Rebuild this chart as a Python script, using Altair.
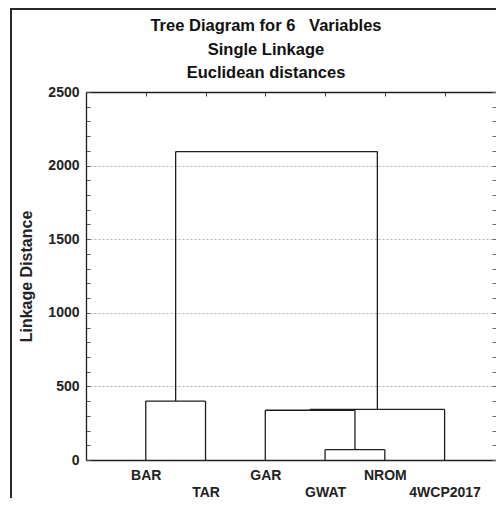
import altair as alt
import pandas as pd

# Leaves (in dendrogram order) and agglomeration steps
leaves = ["BAR", "TAR", "GAR", "GWAT", "NROM", "4WCP2017"]
merge_left = ["GWAT", "GAR", "C2", "BAR", "C4"]
merge_right = ["NROM", "C1", "4WCP2017", "TAR", "C3"]
merge_height = [70, 338, 344, 400, 2095]

y_major = [0, 500, 1000, 1500, 2000, 2500]
y_grid = [500, 1000, 1500, 2000]
y_minor = list(range(0, 2501, 100))

titles = ["Tree Diagram for 6\u00a0\u00a0\u00a0Variables", "Single Linkage", "Euclidean distances"]

# Build dendrogram segments
pos = {n: i + 1 for i, n in enumerate(leaves)}
hgt = {n: 0 for n in leaves}
rows = []
for k, (a, b, h) in enumerate(zip(merge_left, merge_right, merge_height)):
    rows.append(dict(x0=pos[a], x1=pos[a], y0=hgt[a], y1=h))
    rows.append(dict(x0=pos[b], x1=pos[b], y0=hgt[b], y1=h))
    rows.append(dict(x0=pos[a], x1=pos[b], y0=h, y1=h))
    name = f"C{k + 1}"
    pos[name] = (pos[a] + pos[b]) / 2
    hgt[name] = h
df = pd.DataFrame(rows)

FONT = "Liberation Sans"
W, H = 410, 368
xs = alt.Scale(domain=[0, 6.86], nice=False, zero=False)
ys = alt.Scale(domain=[0, 2500], nice=False, zero=False)

names_js = "[" + ",".join(f"'{n}'" for n in leaves) + "]"
label_expr = (
    f"datum.value % 2 == 0 ? ['', {names_js}[datum.value - 1]] : {names_js}[datum.value - 1]"
)

base = alt.Chart(df)

lines = base.mark_rule(color="#1e1e1e", strokeWidth=1.3).encode(
    x=alt.X(
        "x0:Q",
        scale=xs,
        axis=alt.Axis(
            orient="bottom",
            values=list(range(1, 7)),
            labelExpr=label_expr,
            tickSize=0,
            domainColor="#1e1e1e",
            domainWidth=1.3,
            labelFont=FONT,
            labelFontSize=14,
            labelFontWeight="bold",
            labelColor="#222",
            labelBaseline="top",
            labelPadding=8,
            labelLineHeight=17,
            labelOverlap=False,
            labelFlush=False,
            grid=False,
            title=None,
        ),
    ),
    x2="x1:Q",
    y=alt.Y(
        "y0:Q",
        scale=ys,
        axis=alt.Axis(
            orient="left",
            values=y_major,
            format="d",
            tickSize=0,
            domainColor="#1e1e1e",
            domainWidth=1.3,
            labelFont=FONT,
            labelFontSize=14,
            labelFontWeight="bold",
            labelColor="#222",
            labelPadding=7,
            labelFlush=False,
            grid=False,
            title="Linkage Distance",
            titleFont=FONT,
            titleFontSize=16,
            titleFontWeight="bold",
            titleColor="#222",
            titlePadding=13,
        ),
    ),
    y2="y1:Q",
)

grid_layer = base.mark_rule(opacity=0).encode(
    x=alt.X("x0:Q", scale=xs, axis=None),
    y=alt.Y(
        "y0:Q",
        scale=ys,
        axis=alt.Axis(
            orient="left",
            values=y_grid,
            grid=True,
            gridColor="#b0b0b0",
            gridDash=[2, 2],
            gridWidth=1,
            labels=False,
            ticks=False,
            domain=False,
            title=None,
        ),
    ),
)

ticks_in = base.mark_rule(opacity=0).encode(
    x=alt.X(
        "x0:Q",
        scale=xs,
        axis=alt.Axis(
            orient="top",
            offset=-4,
            values=list(range(1, 7)),
            tickSize=4,
            tickColor="#444",
            labels=False,
            domain=False,
            grid=False,
            title=None,
        ),
    ),
    y=alt.Y(
        "y0:Q",
        scale=ys,
        axis=alt.Axis(
            orient="left",
            offset=-4,
            values=y_minor,
            tickSize=4,
            tickColor="#555",
            labels=False,
            domain=False,
            grid=False,
            title=None,
        ),
    ),
)

frame_axes = base.mark_rule(opacity=0).encode(
    x=alt.X(
        "x0:Q",
        scale=xs,
        axis=alt.Axis(
            orient="top",
            values=list(range(1, 7)),
            ticks=False,
            labels=False,
            domain=True,
            domainColor="#1e1e1e",
            domainWidth=1.3,
            grid=False,
            title=None,
        ),
    ),
    y=alt.Y(
        "y0:Q",
        scale=ys,
        axis=alt.Axis(
            orient="right",
            offset=-4,
            values=y_minor,
            tickSize=4,
            tickColor="#666",
            labels=False,
            domain=False,
            grid=False,
            title=None,
        ),
    ),
)

one = alt.Data(values=[{"k": 1}])
outer_left = alt.Chart(one).mark_rule(color="#2a2a2a", strokeWidth=2).encode(
    x=alt.value(-75), y=alt.value(-84), y2=alt.value(420)
)
outer_top = alt.Chart(one).mark_rule(color="#2a2a2a", strokeWidth=2).encode(
    x=alt.value(-76), x2=alt.value(430), y=alt.value(-83)
)
title_text = alt.Chart(one).mark_text(
    font=FONT,
    fontSize=16.5,
    fontWeight="bold",
    color="#111",
    align="center",
    baseline="top",
    lineHeight=23.5,
).encode(x=alt.value(180), y=alt.value(-74), text=alt.value(titles))

chart = (
    alt.layer(grid_layer, ticks_in, frame_axes, lines, outer_left, outer_top, title_text)
    .resolve_axis(x="independent", y="independent")
    .properties(
        width=W,
        height=H,
        padding={"left": 78, "top": 84, "right": 0, "bottom": 38},
        autosize=alt.AutoSizeParams(type="none"),
    )
    .configure_view(stroke=None)
    .configure(background="white")
)

chart.save("out.html", embed_options={"renderer": "svg", "actions": False})
